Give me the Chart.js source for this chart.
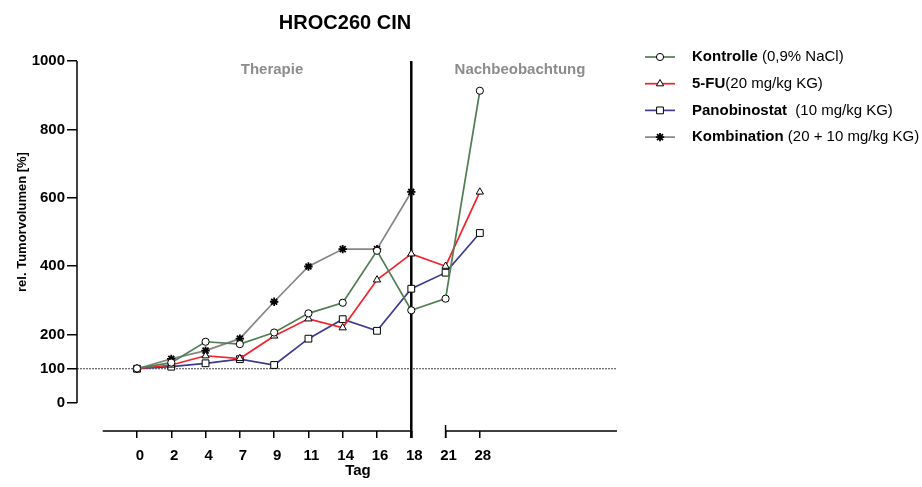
<!DOCTYPE html>
<html>
<head>
<meta charset="utf-8">
<title>HROC260 CIN</title>
<script src="https://cdn.jsdelivr.net/npm/chart.js"></script>
<style>
    html, body { margin: 0; padding: 0; background: #fff; }
    #wrap { position: relative; width: 922px; height: 487px; }
</style>
</head>
<body>
<div id="wrap"><canvas id="tumorChart" width="922" height="487"></canvas></div>
<script>
// Tage (x categories) and y ticks
const days = ['0', '2', '4', '7', '9', '11', '14', '16', '18', '21', '28'];
const yTicks = [0, 100, 200, 400, 600, 800, 1000];

// rel. Tumorvolumen [%] per group
const kontrolle = [101, 118, 179, 172, 206, 262, 293, 445, 271, 305, 913];
const fiveFU = [100, 111, 138, 130, 196, 246, 220, 360, 436, 400, 617];
const panobinostat = [100, 106, 116, 128, 111, 188, 245, 211, 334, 381, 497];
const kombination = [100, 129, 153, 188, 296, 399, 450, 450, 617];

const legendBold = ['Kontrolle', '5-FU', 'Panobinostat', 'Kombination'];
const legendRest = [' (0,9% NaCl)', '(20 mg/kg KG)', '  (10 mg/kg KG)', ' (20 + 10 mg/kg KG)'];

const FONT = '"Liberation Sans", Arial, sans-serif';
let chart;

function toPoints(values) {
    return values.map((v, i) => ({ x: i, y: v }));
}

function makeDataset(label, values, color, style, radius) {
    return {
        label: label,
        data: toPoints(values),
        borderColor: color,
        backgroundColor: color,
        borderWidth: 1.7,
        tension: 0,
        pointStyle: style,
        pointRadius: radius,
        pointBorderColor: '#000',
        pointBackgroundColor: style === 'star' ? '#000' : '#fff',
        pointBorderWidth: style === 'star' ? 1.8 : 1,
        fill: false
    };
}

// axes, break, phase line, titles and legend
const decorPlugin = {
    id: 'decor',
    beforeDatasetsDraw(c) {
        const { ctx, scales: { x, y } } = c;
        ctx.save();
        // 100 % reference line
        ctx.strokeStyle = '#444';
        ctx.lineWidth = 1;
        ctx.setLineDash([2, 1]);
        ctx.beginPath();
        ctx.moveTo(x.left, y.getPixelForValue(100));
        ctx.lineTo(x.right, y.getPixelForValue(100));
        ctx.stroke();
        ctx.setLineDash([]);

        // Therapie / Nachbeobachtung divider at day 18
        const xd = x.getPixelForValue(8);
        ctx.strokeStyle = '#000';
        ctx.lineWidth = 2.5;
        ctx.beginPath();
        ctx.moveTo(xd, y.getPixelForValue(1000));
        ctx.lineTo(xd, x.top + 7);
        ctx.stroke();
        ctx.restore();
    },
    afterDraw(c) {
        const { ctx, scales: { x, y } } = c;
        ctx.save();
        ctx.strokeStyle = '#000';
        ctx.lineWidth = 1.5;

        // y axis line (0..1000 only)
        ctx.beginPath();
        ctx.moveTo(y.right, y.getPixelForValue(0));
        ctx.lineTo(y.right, y.getPixelForValue(1000));
        ctx.stroke();

        // broken x axis
        const ay = x.top;
        ctx.beginPath();
        ctx.moveTo(x.getPixelForValue(-1), ay);
        ctx.lineTo(x.getPixelForValue(8), ay);
        ctx.moveTo(x.getPixelForValue(9), ay);
        ctx.lineTo(x.right, ay);
        ctx.moveTo(x.getPixelForValue(9), ay - 6);
        ctx.lineTo(x.getPixelForValue(9), ay + 7);
        ctx.stroke();

        // titles
        ctx.fillStyle = '#000';
        ctx.textAlign = 'center';
        ctx.textBaseline = 'middle';
        ctx.font = 'bold 20px ' + FONT;
        ctx.fillText('HROC260 CIN', 345, 23);

        ctx.font = 'bold 15px ' + FONT;
        ctx.fillText('Tag', 358, 471);

        ctx.fillStyle = '#8c8c8c';
        ctx.fillText('Therapie', 272, 70);
        ctx.fillText('Nachbeobachtung', 520, 70);

        ctx.save();
        ctx.translate(22, 222);
        ctx.rotate(-Math.PI / 2);
        ctx.fillStyle = '#000';
        ctx.font = 'bold 13px ' + FONT;
        ctx.fillText('rel. Tumorvolumen [%]', 0, 0);
        ctx.restore();

        // legend
        ctx.textAlign = 'left';
        c.data.datasets.forEach((ds, i) => {
            const ly = 57 + i * 26.7;
            ctx.strokeStyle = ds.borderColor;
            ctx.lineWidth = 1.7;
            ctx.beginPath();
            ctx.moveTo(645, ly);
            ctx.lineTo(675, ly);
            ctx.stroke();

            ctx.fillStyle = ds.pointBackgroundColor;
            ctx.strokeStyle = '#000';
            ctx.lineWidth = ds.pointBorderWidth;
            Chart.helpers.drawPoint(ctx, {
                pointStyle: ds.pointStyle,
                radius: ds.pointRadius,
                borderWidth: ds.pointBorderWidth,
                rotation: 0
            }, 660, ly);

            ctx.fillStyle = '#000';
            ctx.font = 'bold 15px ' + FONT;
            ctx.fillText(legendBold[i], 692, ly);
            const w = ctx.measureText(legendBold[i]).width;
            ctx.font = '15px ' + FONT;
            ctx.fillText(legendRest[i], 692 + w, ly);
        });
        ctx.restore();
    }
};

function initChart() {
    const ctx = document.getElementById('tumorChart').getContext('2d');

    chart = new Chart(ctx, {
        type: 'line',
        data: {
            datasets: [
                makeDataset('Kontrolle', kontrolle, '#4f7f52', 'circle', 3.6),
                makeDataset('5-FU', fiveFU, '#f2222b', 'triangle', 4.2),
                makeDataset('Panobinostat', panobinostat, '#3d3b8e', 'rect', 4.8),
                makeDataset('Kombination', kombination, '#858585', 'star', 4.2)
            ]
        },
        options: {
            responsive: false,
            animation: false,
            layout: {
                padding: { top: 61, right: 305, left: 0, bottom: 0 }
            },
            plugins: {
                legend: { display: false },
                title: { display: false },
                tooltip: { enabled: false }
            },
            scales: {
                x: {
                    type: 'linear',
                    min: -1.75,
                    max: 14,
                    afterFit: s => { s.height = 56; },
                    afterBuildTicks: s => { s.ticks = days.map((_, i) => ({ value: i })); },
                    border: { display: false },
                    grid: {
                        drawOnChartArea: false,
                        drawTicks: true,
                        tickLength: 7,
                        color: '#000',
                        lineWidth: 1.5
                    },
                    ticks: {
                        autoSkip: false,
                        maxRotation: 0,
                        padding: 9,
                        labelOffset: 3,
                        color: '#000',
                        font: { family: FONT, size: 15, weight: 'bold' },
                        callback: (v, i) => days[i]
                    }
                },
                y: {
                    min: -82,
                    max: 1000,
                    afterFit: s => { s.width = 77; },
                    afterBuildTicks: s => { s.ticks = yTicks.map(v => ({ value: v })); },
                    border: { display: false },
                    grid: {
                        drawOnChartArea: false,
                        drawTicks: true,
                        tickLength: 10,
                        color: '#000',
                        lineWidth: 1.5
                    },
                    ticks: {
                        padding: 2,
                        color: '#000',
                        font: { family: FONT, size: 15, weight: 'bold' },
                        callback: v => String(v)
                    }
                }
            }
        },
        plugins: [decorPlugin]
    });
}

document.addEventListener('DOMContentLoaded', initChart);
</script>
</body>
</html>
